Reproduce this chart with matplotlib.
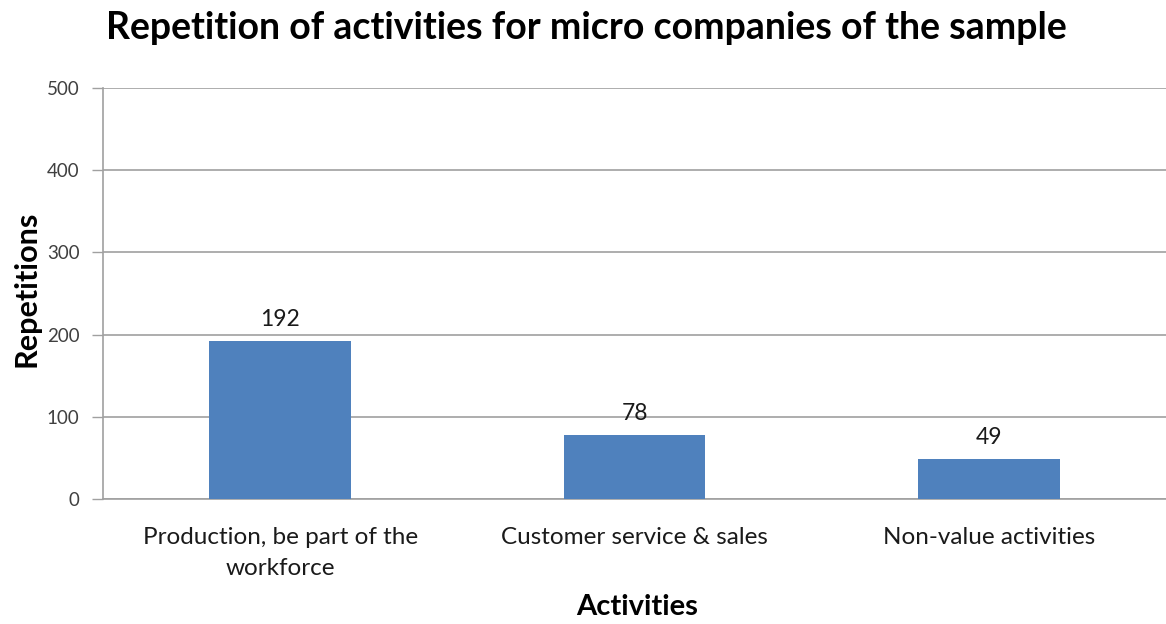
import matplotlib
matplotlib.use('Agg')
import matplotlib.pyplot as plt

plt.rcParams['font.family'] = ['Lato', 'DejaVu Sans']

categories = ['Production, be part of the\nworkforce', 'Customer service & sales', 'Non-value activities']
repetitions = [192, 78, 49]
yticks = [0, 100, 200, 300, 400, 500]

BAR_COLOR = '#4f81bd'
GRID_COLOR = '#a0a0a0'
TEXT_COLOR = '#404040'

fig = plt.figure(figsize=(11.66, 6.24), dpi=100, facecolor='white')
ax = fig.add_axes([0.0885, 0.2003, 0.9115, 0.6587])

x = range(len(categories))
bars = ax.bar(x, repetitions, width=0.4, color=BAR_COLOR, zorder=3)
for b, v in zip(bars, repetitions):
    ax.text(b.get_x() + b.get_width() / 2, v + 13, str(v),
            ha='center', va='bottom', fontsize=16.5, color='#1a1a1a')

ax.set_xlim(-0.5, 2.5)
ax.set_ylim(0, 500)
ax.set_yticks(yticks)
ax.set_xticks(list(x))
ax.set_xticklabels(categories, fontsize=17.5, color='#1a1a1a', linespacing=1.6)
ax.tick_params(axis='y', labelsize=13.5, colors=TEXT_COLOR, length=8, width=1,
               color=GRID_COLOR, pad=9)
ax.tick_params(axis='x', length=0, pad=20)
ax.grid(axis='y', color=GRID_COLOR, linewidth=1.2, zorder=0)

for s in ['top', 'right']:
    ax.spines[s].set_visible(False)
ax.spines['left'].set_color(GRID_COLOR)
ax.spines['bottom'].set_color(GRID_COLOR)
ax.spines['left'].set_linewidth(1.2)
ax.spines['bottom'].set_linewidth(1.2)

# axis titles placed in figure coordinates
fig.text(0.023, 0.537, 'Repetitions', rotation=90,
         ha='center', va='center', fontsize=22, fontweight='bold', color='black')
fig.text(0.546, 0.027, 'Activities',
         ha='center', va='center', fontsize=21, fontweight='bold', color='black')
fig.text(0.503, 0.955, 'Repetition of activities for micro companies of the sample',
         ha='center', va='center', fontsize=27, fontweight='bold', color='black')

fig.savefig('out.png', dpi=100, facecolor='white')
